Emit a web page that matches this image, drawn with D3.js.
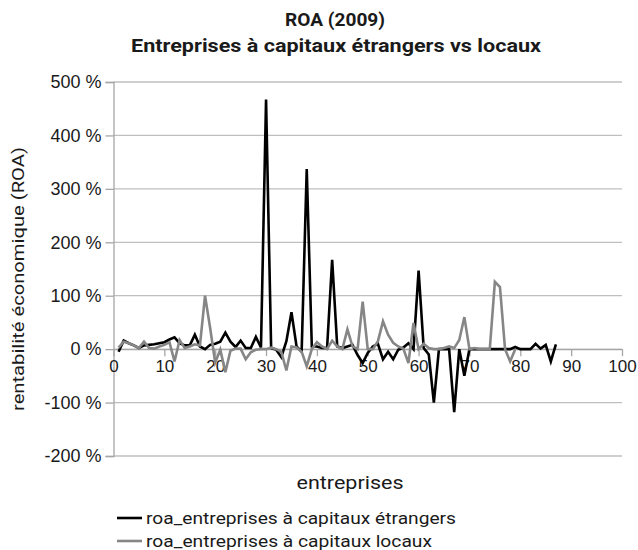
<!DOCTYPE html>
<html>
<head>
<meta charset="utf-8">
<script src="https://cdn.jsdelivr.net/npm/d3@7"></script>
<style>
  html, body { margin: 0; padding: 0; background: #fff; }
  svg { display: block; font-family: Roboto, "Noto Sans", sans-serif; }
</style>
</head>
<body>
<div id="chart"></div>
<script>
// ---- data ----
const titleLines = ["ROA (2009)", "Entreprises à capitaux étrangers vs locaux"];
const yTitle = "rentabilité économique (ROA)";
const xTitle = "entreprises";
const seriesNames = ["roa_entreprises à capitaux étrangers", "roa_entreprises à capitaux locaux"];
const xTicks = [0, 10, 20, 30, 40, 50, 60, 70, 80, 90, 100];
const yTicks = [-200, -100, 0, 100, 200, 300, 400, 500];

const firmsForeign = [1,2,3,4,5,6,7,8,9,10,11,12,13,14,15,16,17,18,19,20,21,22,23,24,25,26,27,28,29,30,
  31,32,33,34,35,36,37,38,39,40,41,42,43,44,45,46,47,48,49,50,51,52,53,54,55,56,57,58,59,60,
  61,62,63,64,65,66,67,68,69,70,71,72,73,74,75,76,77,78,79,80,81,82,83,84,85,86,87];
const roaForeign = [-5,16,11,7,2,7,8,9,11,13,18,22,11,7,7,27,5,0,8,10,14,31,14,4,16,2,2,23,3,467,
  2,-1,-15,15,69,5,-5,337,5,5,2,2,167,5,2,5,8,-11,-26,-7,5,10,-19,-5,-19,-1,3,11,0,147,
  2,-10,-100,0,0,0,-118,0,-50,0,0,0,0,0,0,0,0,0,4,0,0,0,10,1,8,-23,9];

const firmsLocal = [1,2,3,4,5,6,7,8,9,10,11,12,13,14,15,16,17,18,19,20,21,22,23,24,25,26,27,28,29,30,
  31,32,33,34,35,36,37,38,39,40,41,42,43,44,45,46,47,48,49,50,51,52,53,54,55,56,57,58,59,60,
  61,62,63,64,65,66,67,68,69,70,71,72,73,74,75,76,77,78,79];
const roaLocal = [3,14,11,7,2,14,2,1,5,8,13,-23,17,2,5,9,7,100,40,-25,-1,-43,-3,1,1,-19,-6,-1,0,0,
  3,0,-5,-40,5,3,-5,-32,0,13,5,0,16,5,0,37,5,0,89,0,0,15,52,27,12,5,1,-26,49,0,
  10,2,0,0,2,5,2,17,60,0,2,0,0,0,126,116,0,-23,0];

// ---- layout ----
const W = 638, H = 550;
const plot = { left: 113.5, right: 622, top: 82, bottom: 456 };
const gridColor = "#bfbfbf";
const axisColor = "#a6a6a6";
const textColor = "#1a1a1a";

const svg = d3.select("#chart").append("svg").attr("width", W).attr("height", H);

const x = d3.scaleLinear().domain([0, 100]).range([plot.left, plot.right]);
const y = d3.scaleLinear().domain([-200, 500]).range([plot.bottom, plot.top]);

// gridlines
svg.append("g").selectAll("line").data(yTicks).join("line")
  .attr("x1", plot.left).attr("x2", plot.right)
  .attr("y1", d => y(d)).attr("y2", d => y(d))
  .attr("stroke", gridColor).attr("stroke-width", 1.3);

// y axis
const yAxis = svg.append("g").attr("transform", `translate(${plot.left},0)`)
  .call(d3.axisLeft(y).tickValues(yTicks).tickSize(8).tickPadding(4)
    .tickFormat(d => d + "\u00a0%"));
yAxis.select(".domain").attr("stroke", axisColor).attr("stroke-width", 1.3);
yAxis.selectAll(".tick line").attr("stroke", axisColor).attr("stroke-width", 1.3);
yAxis.selectAll(".tick text").attr("fill", textColor).style("font-size", "18px");

// x axis at y = 0
const xAxis = svg.append("g").attr("transform", `translate(0,${y(0)})`)
  .call(d3.axisBottom(x).tickValues(xTicks).tickSize(7).tickPadding(4).tickSizeOuter(0));
xAxis.select(".domain").attr("stroke", axisColor).attr("stroke-width", 1.3);
xAxis.selectAll(".tick line").attr("stroke", axisColor).attr("stroke-width", 1.3);
xAxis.selectAll(".tick text").attr("fill", textColor).style("font-size", "17px");

// lines
const line = d3.line().x(d => x(d[0])).y(d => y(d[1]));
svg.append("path")
  .datum(firmsForeign.map((f, i) => [f, roaForeign[i]]))
  .attr("d", line).attr("fill", "none").attr("stroke", "#000")
  .attr("stroke-width", 2.6).attr("stroke-linejoin", "miter");
svg.append("path")
  .datum(firmsLocal.map((f, i) => [f, roaLocal[i]]))
  .attr("d", line).attr("fill", "none").attr("stroke", "#868686")
  .attr("stroke-width", 2.6).attr("stroke-linejoin", "miter");

// titles
svg.append("text").attr("x", 335).attr("y", 26).attr("text-anchor", "middle")
  .style("font-size", "18px").style("font-weight", "bold").attr("fill", textColor)
  .attr("textLength", 100).attr("lengthAdjust", "spacingAndGlyphs")
  .text(titleLines[0]);
svg.append("text").attr("x", 336).attr("y", 52).attr("text-anchor", "middle")
  .style("font-size", "18px").style("font-weight", "bold").attr("fill", textColor)
  .attr("textLength", 410).attr("lengthAdjust", "spacingAndGlyphs")
  .text(titleLines[1]);

// axis titles
svg.append("text").attr("transform", `translate(24,279) rotate(-90)`)
  .attr("text-anchor", "middle").style("font-size", "17px").attr("fill", textColor)
  .attr("textLength", 264).attr("lengthAdjust", "spacingAndGlyphs")
  .text(yTitle);
svg.append("text").attr("x", 350).attr("y", 489).attr("text-anchor", "middle")
  .style("font-size", "18px").attr("fill", textColor)
  .attr("textLength", 107).attr("lengthAdjust", "spacingAndGlyphs")
  .text(xTitle);

// legend
const legColors = ["#000", "#868686"];
const legWidths = [310, 286];
const leg = svg.append("g");
seriesNames.forEach((name, i) => {
  const yy = 518 + i * 23;
  leg.append("line").attr("x1", 117).attr("x2", 142).attr("y1", yy).attr("y2", yy)
    .attr("stroke", legColors[i]).attr("stroke-width", 2.6);
  leg.append("text").attr("x", 146).attr("y", yy + 6)
    .style("font-size", "17px").attr("fill", textColor)
    .attr("textLength", legWidths[i]).attr("lengthAdjust", "spacingAndGlyphs")
    .text(name);
});
</script>
</body>
</html>
